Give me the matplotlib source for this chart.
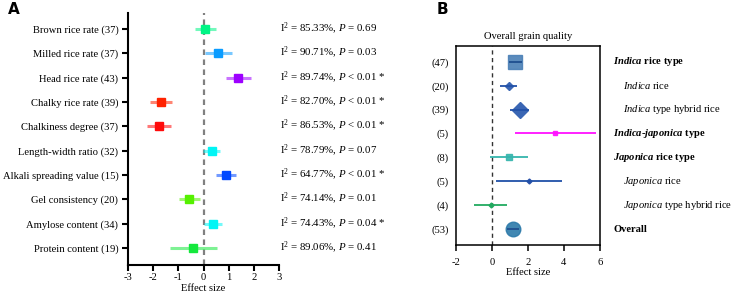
import matplotlib
matplotlib.use('Agg')
import matplotlib.pyplot as plt
import numpy as np

# ---- panel A data ----
traits_a = ['Brown rice rate', 'Milled rice rate', 'Head rice rate', 'Chalky rice rate',
            'Chalkiness degree', 'Length-width ratio', 'Alkali spreading value',
            'Gel consistency', 'Amylose content', 'Protein content']
n_a = [37, 37, 43, 39, 37, 32, 15, 20, 34, 19]
es_a = [0.07, 0.59, 1.37, -1.68, -1.78, 0.32, 0.89, -0.58, 0.37, -0.40]
lo_a = [-0.33, 0.07, 0.90, -2.11, -2.26, -0.03, 0.48, -0.99, 0.00, -1.32]
hi_a = [0.50, 1.12, 1.90, -1.24, -1.31, 0.66, 1.30, -0.15, 0.74, 0.53]
i2_a = [85.33, 90.71, 89.74, 82.70, 86.53, 78.79, 64.77, 74.14, 74.43, 89.06]
p_a = ['= 0.69', '= 0.03', '< 0.01 *', '< 0.01 *', '< 0.01 *', '= 0.07', '< 0.01 *',
       '= 0.01', '= 0.04 *', '= 0.41']
colors_a = ['#00f585', '#0a9cff', '#9d00ff', '#ff2200', '#ff0a0a', '#00f5f5', '#0048ff',
            '#55f000', '#00f5f5', '#14e83c']

# ---- panel B data ----
groups_b = ['indica_type', 'indica_rice', 'indica_hybrid', 'indica_japonica',
            'japonica_type', 'japonica_rice', 'japonica_hybrid', 'overall']
n_b = [47, 20, 39, 5, 8, 5, 4, 53]
es_b = [1.31, 0.94, 1.55, 3.53, 0.96, 2.05, -0.06, 1.16]
lo_b = [0.98, 0.48, 1.02, 1.26, -0.09, 0.24, -1.00, 0.83]
hi_b = [1.66, 1.42, 2.09, 5.78, 2.03, 3.88, 0.87, 1.50]
labels_b = [r'$\mathbfit{Indica}$ rice type',
            r'$\mathit{Indica}$ rice',
            r'$\mathit{Indica}$ type hybrid rice',
            r'$\mathbfit{Indica}$-$\mathbfit{japonica}$ type',
            r'$\mathbfit{Japonica}$ rice type',
            r'$\mathit{Japonica}$ rice',
            r'$\mathit{Japonica}$ type hybrid rice',
            'Overall']
bold_b = [True, False, False, True, True, False, False, True]
markers_b = ['s', 'D', 'D', 's', 's', 'D', 'D', 'o']
msize_b = [9.5, 4.5, 8, 3.5, 5, 2.5, 2.5, 10.5]
mcol_b = ['#4a80b6', '#3a66b4', '#3a66b4', '#ff10ff', '#35b5ad', '#2850a8', '#22aa60', '#2c7aaa']
lcol_b = ['#1f4f8f', '#2252a8', '#2252a8', '#ff10ff', '#35b5ad', '#2050a8', '#22aa60', '#1f4f8f']

plt.rcParams['font.family'] = 'Liberation Serif'
plt.rcParams['axes.unicode_minus'] = False
plt.rcParams['mathtext.fontset'] = 'custom'
plt.rcParams['mathtext.rm'] = 'Liberation Serif'
plt.rcParams['mathtext.it'] = 'Liberation Serif:italic'
plt.rcParams['mathtext.bf'] = 'Liberation Serif:bold'
plt.rcParams['mathtext.bfit'] = 'Liberation Serif:bold:italic'

FS = 7.6
W, H = 735, 297
fig = plt.figure(figsize=(W / 100, H / 100), dpi=100)

# ---------------- panel A ----------------
axa = fig.add_axes([128 / W, 1 - 265 / H, (279 - 128) / W, (265 - 12.7) / H])
ya = np.arange(len(traits_a))
axa.axvline(0, color='#808080', ls=(0, (2.5, 2)), lw=1.6, zorder=1)
for i in range(len(traits_a)):
    axa.plot([lo_a[i], hi_a[i]], [ya[i], ya[i]], color=colors_a[i], lw=2.2, alpha=0.55,
             solid_capstyle='butt', zorder=2)
    axa.plot(es_a[i], ya[i], marker='s', ms=6.2, color=colors_a[i], mec=colors_a[i], zorder=3)
    txt = f'I$^{{2}}$ = {i2_a[i]:.2f}%, $\\mathit{{P}}$ {p_a[i]}'
    axa.text(1.0 + 1 / 151, ya[i], txt, transform=axa.get_yaxis_transform(),
             va='center', ha='left', fontsize=7.8)
axa.set_xlim(-3, 3)
axa.set_ylim(len(traits_a) - 1 + 0.7, -0.67)
axa.set_xticks(np.arange(-3, 4, 1))
axa.set_yticks(ya)
axa.set_yticklabels([f'{t} ({n})' for t, n in zip(traits_a, n_a)], fontsize=FS)
for s in ['top', 'right']:
    axa.spines[s].set_visible(False)
for s in ['left', 'bottom']:
    axa.spines[s].set_linewidth(1.5)
axa.tick_params(axis='y', direction='out', length=4, width=1.5, labelsize=FS, pad=3)
axa.tick_params(axis='x', direction='out', length=4, width=1.5, labelsize=FS, pad=1.5)
axa.set_xlabel('Effect size', fontsize=FS, labelpad=2)

# ---------------- panel B ----------------
axb = fig.add_axes([455.7 / W, 1 - 245.3 / H, (600 - 455.7) / W, (245.3 - 45.7) / H])
yb = np.arange(len(groups_b))
axb.axvline(0, color='#333333', ls=(0, (3, 2.5)), lw=1.0, zorder=1)
for i in range(len(groups_b)):
    axb.plot([lo_b[i], hi_b[i]], [yb[i], yb[i]], color=lcol_b[i], lw=1.3, zorder=3,
             solid_capstyle='butt')
    axb.plot(es_b[i], yb[i], marker=markers_b[i], ms=msize_b[i], color=mcol_b[i],
             mec=mcol_b[i], alpha=0.9 if bold_b[i] else 1.0, zorder=2)
    x0 = 13.3 if bold_b[i] else 22.7
    axb.text(1.0 + x0 / 144.3, yb[i], labels_b[i], transform=axb.get_yaxis_transform(),
             va='center', ha='left', fontsize=FS,
             fontweight='bold' if bold_b[i] else 'normal')
axb.set_xlim(-2, 6)
axb.set_ylim(len(groups_b) - 1 + 0.68, -0.67)
axb.set_xticks(np.arange(-2, 7, 2))
axb.set_yticks(yb)
axb.set_yticklabels([f'({n})' for n in n_b], fontsize=FS)
for s in axb.spines.values():
    s.set_linewidth(1.1)
axb.tick_params(axis='y', length=0, pad=5, labelsize=FS)
axb.tick_params(axis='x', direction='out', length=4, width=1.1, labelsize=FS, pad=5)
axb.set_xlabel('Effect size', fontsize=FS, labelpad=1)
axb.set_title('Overall grain quality', fontsize=FS, pad=5)

fig.text(8 / W, 1 - 10 / H, 'A', fontsize=11, fontweight='bold', family='DejaVu Sans',
         va='center', ha='left')
fig.text(437 / W, 1 - 10 / H, 'B', fontsize=11, fontweight='bold', family='DejaVu Sans',
         va='center', ha='left')

fig.savefig('out.png', dpi=100)
